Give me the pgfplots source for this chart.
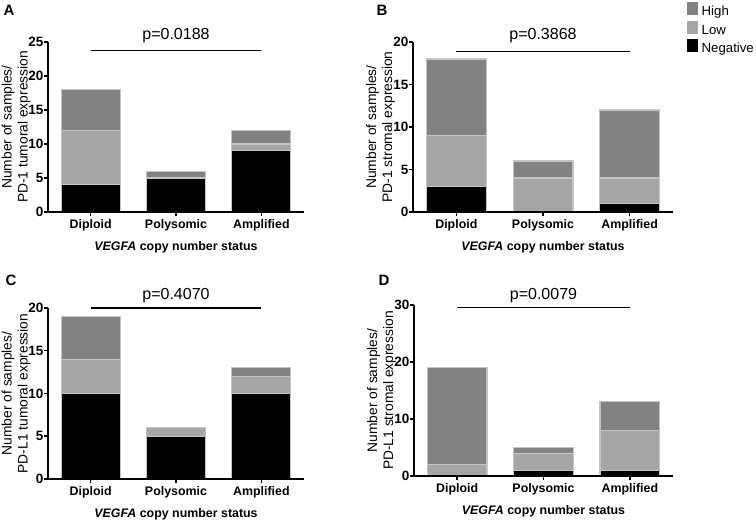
\documentclass[border=0pt]{standalone}
\usepackage{fontspec}
\setmainfont{Liberation Sans}
\usepackage{pgfplots}
\pgfplotsset{compat=1.18}
\definecolor{highc}{RGB}{130,130,130}
\definecolor{lowc}{RGB}{166,166,166}
\definecolor{negc}{RGB}{0,0,0}
\definecolor{barborder}{RGB}{196,196,196}
\tikzset{
  pline/.style={line width=1.2pt, black},
  ptext/.style={font=\fontsize{16}{16}\selectfont},
}
\pgfplotsset{
  panel/.style={
    scale only axis,
    ybar stacked, bar width=0.69,
    xmin=-0.5, xmax=2.5, ymin=0,
    xtick={0,1,2}, xticklabels={Diploid,Polysomic,Amplified},
    axis x line*=bottom, axis y line*=left,
    axis line style={line width=2pt, black},
    tick align=outside, major tick length=4pt,
    tick style={line width=1.5pt, black},
    /pgf/number format/assume math mode=true,
    yticklabel style={font=\bfseries\fontsize{13.5}{14}\selectfont, inner sep=0.5pt},
    xticklabel style={font=\bfseries\fontsize{12.4}{13}\selectfont},
    xlabel={\textit{VEGFA} copy number status},
    xlabel style={font=\bfseries\fontsize{12.4}{13}\selectfont, at={(axis description cs:0.5,-0.206)}, anchor=center},
    ylabel style={font=\fontsize{13.8}{16}\selectfont, align=center, at={(axis description cs:-0.125,0.5)}, anchor=center},
    clip=false, axis on top,
    every axis plot/.append style={draw=barborder, line width=1.2pt},
  },
}
\begin{document}
\begin{tikzpicture}[x=1pt,y=1pt]
\useasboundingbox (0,0) rectangle (756,521);
% Panel A
\begin{axis}[panel, at={(48pt,309pt)}, anchor=south west, width=256pt, height=170pt,
  ymax=25, ytick={0,5,10,15,20,25},
  ylabel={Number of samples/\\PD-1 tumoral expression}]
\addplot[fill=negc] coordinates {(0,4) (1,5) (2,9)};
\addplot[fill=lowc] coordinates {(0,8) (1,0) (2,1)};
\addplot[fill=highc] coordinates {(0,6) (1,1) (2,2)};
\draw[pline] (axis cs:0,23.7) -- (axis cs:2,23.7);
\node[ptext] at (axis cs:1,25.9) {p=0.0188};
\end{axis}
% Panel B
\begin{axis}[panel, at={(413pt,309pt)}, anchor=south west, width=260pt, height=170pt,
  ymax=20, ytick={0,5,10,15,20},
  ylabel={Number of samples/\\PD-1 stromal expression},
  reverse legend,
  legend image code/.code={\fill[#1,draw=none] (0pt,-3pt) rectangle (11pt,10pt);},
  legend style={at={(rel axis cs:1.052,1.235)}, anchor=north west, draw=none, fill=none,
    inner sep=0pt, font=\fontsize{13.2}{14}\selectfont, row sep=2pt, column sep=4pt,
    nodes={inner sep=0pt, text height=10pt, text depth=3pt}},
  legend cell align=left]
\addplot[fill=negc] coordinates {(0,3) (1,0) (2,1)};
\addlegendentry{Negative}
\addplot[fill=lowc] coordinates {(0,6) (1,4) (2,3)};
\addlegendentry{Low}
\addplot[fill=highc] coordinates {(0,9) (1,2) (2,8)};
\addlegendentry{High}
\draw[pline] (axis cs:0,18.9) -- (axis cs:2,18.9);
\node[ptext] at (axis cs:1,20.8) {p=0.3868};
\end{axis}
% Panel C
\begin{axis}[panel, at={(48pt,42pt)}, anchor=south west, width=256pt, height=171pt,
  ymax=20, ytick={0,5,10,15,20},
  ylabel={Number of samples/\\PD-L1 tumoral expression}]
\addplot[fill=negc] coordinates {(0,10) (1,5) (2,10)};
\addplot[fill=lowc] coordinates {(0,4) (1,1) (2,2)};
\addplot[fill=highc] coordinates {(0,5) (1,0) (2,1)};
\draw[pline] (axis cs:0,20) -- (axis cs:2,20);
\node[ptext] at (axis cs:1,21.4) {p=0.4070};
\end{axis}
% Panel D
\begin{axis}[panel, at={(414pt,45pt)}, anchor=south west, width=259pt, height=171pt,
  ymax=30, ytick={0,10,20,30},
  ylabel={Number of samples/\\PD-L1 stromal expression}]
\addplot[fill=negc] coordinates {(0,0) (1,1) (2,1)};
\addplot[fill=lowc] coordinates {(0,2) (1,3) (2,7)};
\addplot[fill=highc] coordinates {(0,17) (1,1) (2,5)};
\draw[pline] (axis cs:0,29.5) -- (axis cs:2,29.5);
\node[ptext] at (axis cs:1,31.6) {p=0.0079};
\end{axis}
\node[font=\bfseries\fontsize{15}{15}\selectfont] at (9,511) {A};
\node[font=\bfseries\fontsize{15}{15}\selectfont] at (382,511) {B};
\node[font=\bfseries\fontsize{15}{15}\selectfont] at (11,241) {C};
\node[font=\bfseries\fontsize{15}{15}\selectfont] at (384,241) {D};
\end{tikzpicture}
\end{document}
